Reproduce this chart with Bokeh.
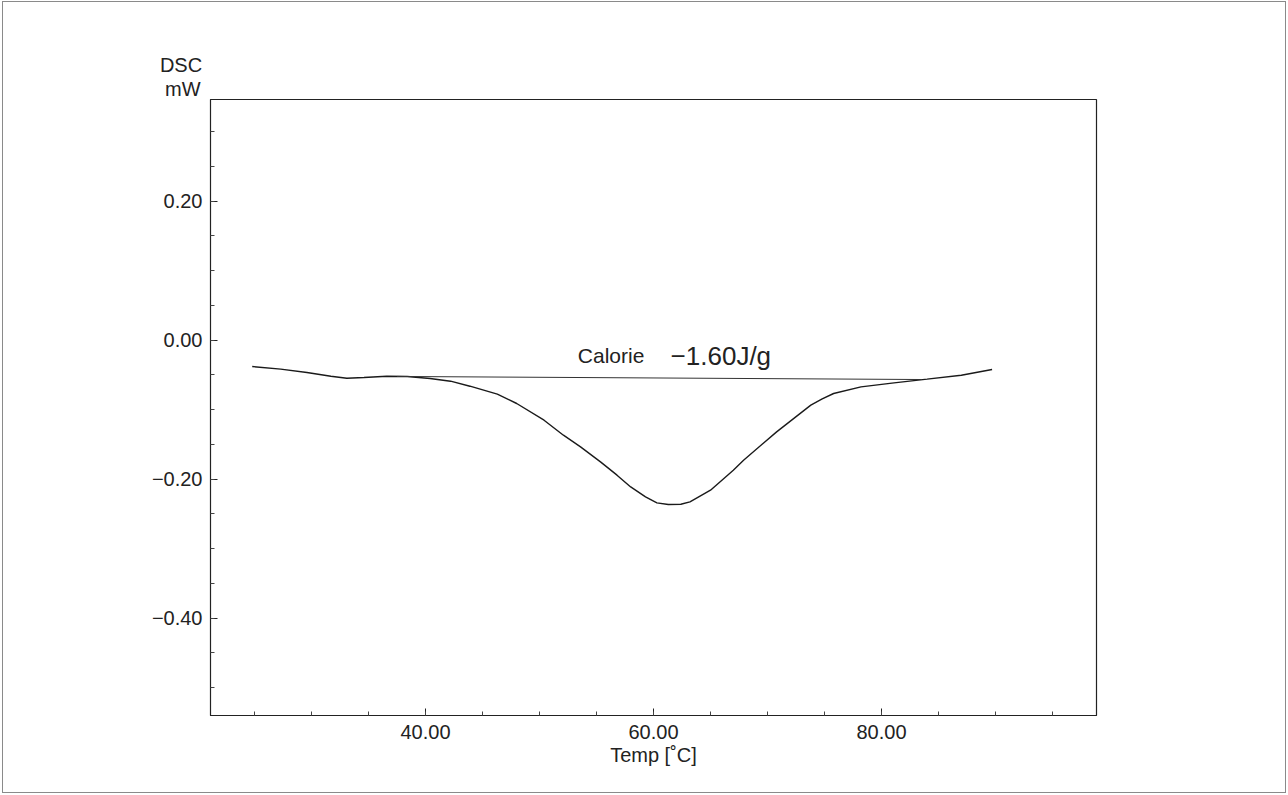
from bokeh.plotting import figure
from bokeh.models import Range1d, FixedTicker, Title, InlineStyleSheet
from bokeh.core.properties import value
from bokeh.embed import file_html
from bokeh.resources import INLINE

# DSC curve (Temp in degC, heat flow in mW)
temp = [24.8, 27.3, 29.6, 31.7, 33.1, 34.6, 36.6, 38.4, 40.4, 42.2, 43.9, 46.3,
        48.0, 50.4, 52.1, 53.6, 55.35, 56.8, 58.0, 59.3, 60.3, 61.3, 62.4, 63.2,
        65.0, 67.0, 67.9, 70.8, 73.8, 74.8, 75.8, 78.2, 81.1, 84.0, 87.0, 89.7]
dsc = [-0.0379, -0.0417, -0.0465, -0.0518, -0.0547, -0.0537, -0.0518, -0.0522,
       -0.0551, -0.0590, -0.0662, -0.0777, -0.0911, -0.1151, -0.1367, -0.1535,
       -0.1751, -0.1942, -0.2111, -0.2254, -0.2340, -0.2365, -0.2360, -0.2326,
       -0.2158, -0.1870, -0.1727, -0.1319, -0.0935, -0.0844, -0.0767, -0.0671,
       -0.0614, -0.0561, -0.0504, -0.0422]

# integration baseline
base_temp = [37.5, 83.5]
base_dsc = [-0.0522, -0.0566]

# annotation
cal_label = "Calorie"
cal_value = "\u22121.60J/g"
cal_x = [53.36]
val_x = [61.5]
cal_y = [-0.0222]

# ticks
x_major = [40, 60, 80]
x_labels = ["40.00", "60.00", "80.00"]
x_minor = [25, 30, 35, 40, 45, 50, 55, 60, 65, 70, 75, 80, 85, 90, 95]
y_major = [-0.4, -0.2, 0.0, 0.2]
y_labels = ["\u22120.40", "\u22120.20", "0.00", "0.20"]
y_minor = [-0.5, -0.45, -0.4, -0.35, -0.3, -0.25, -0.2, -0.15, -0.1, -0.05,
           0.0, 0.05, 0.1, 0.15, 0.2, 0.25, 0.3]
y_title = ["DSC", "mW"]

FONT = "Liberation Sans"

p = figure(width=1288, height=795, output_backend="svg", toolbar_location=None,
           x_range=Range1d(21.14, 98.86), y_range=Range1d(-0.54, 0.3463),
           min_border_left=210, min_border_right=192, min_border_top=99,
           min_border_bottom=80)
p.background_fill_color = "white"
p.border_fill_color = "white"
p.outline_line_color = "#222222"
p.outline_line_width = 1.2
p.xgrid.visible = False
p.ygrid.visible = False
p.stylesheets = [InlineStyleSheet(css="""
:host::after {
  content: "";
  position: absolute;
  left: 2px; top: 1px; right: 2px; bottom: 2px;
  border: 1.5px solid #8a8a8a;
  pointer-events: none;
  z-index: 100;
}
""")]

for ax, maj, mino, labs in ((p.xaxis[0], x_major, x_minor, x_labels),
                            (p.yaxis[0], y_major, y_minor, y_labels)):
    ax.ticker = FixedTicker(ticks=maj, minor_ticks=mino)
    ax.major_label_overrides = {t: l for t, l in zip(maj, labs)}
    ax.major_tick_in = 7
    ax.major_tick_out = 0
    ax.minor_tick_in = 4
    ax.minor_tick_out = 0
    ax.axis_line_color = "#222222"
    ax.major_tick_line_color = "#222222"
    ax.minor_tick_line_color = "#444444"
    ax.major_label_text_font = FONT
    ax.major_label_text_font_size = "20px"
    ax.major_label_text_color = "#222222"

p.yaxis[0].major_label_standoff = 8
p.xaxis[0].major_label_standoff = 9
p.xaxis[0].axis_label = "Temp [\u02daC]"
p.xaxis[0].axis_label_text_font = FONT
p.xaxis[0].axis_label_text_font_size = "20px"
p.xaxis[0].axis_label_text_font_style = "normal"
p.xaxis[0].axis_label_text_color = "#222222"
p.xaxis[0].axis_label_standoff = 2

p.line(temp, dsc, line_color="#1a1a1a", line_width=1.4)
p.line(base_temp, base_dsc, line_color="#333333", line_width=1)

p.text(x=cal_x, y=cal_y, text=[cal_label], text_font=value(FONT),
       text_font_size="21px", text_color="#222222", text_baseline="alphabetic")
p.text(x=val_x, y=cal_y, text=[cal_value], text_font=value(FONT),
       text_font_size="26px", text_color="#222222", text_baseline="alphabetic")

# y-axis title "DSC / mW" at the top left of the frame
for txt, off in ((y_title[1], -45.5), (y_title[0], -50.6)):
    p.add_layout(Title(text=txt, align="left", offset=off, standoff=0,
                       text_font=FONT, text_font_size="20px",
                       text_font_style="normal", text_color="#222222",
                       vertical_align="bottom"), "above")

open("out.html", "w").write(file_html(p, INLINE))
